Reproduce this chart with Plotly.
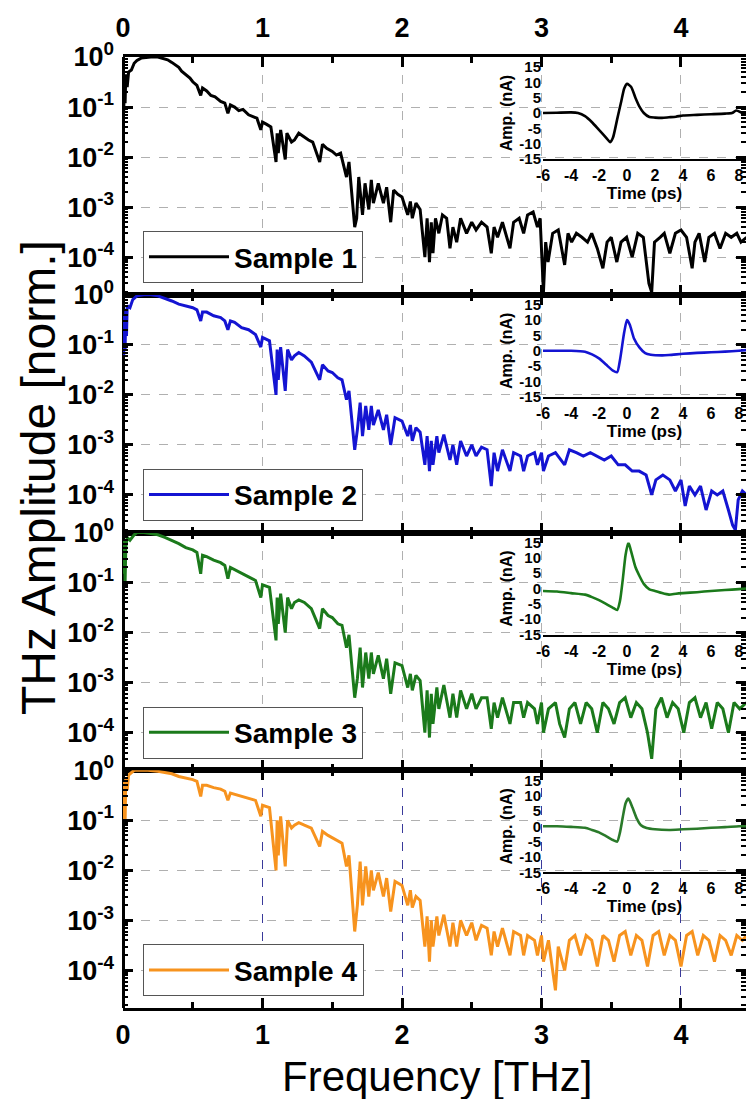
import plotly.graph_objects as go

# ---------------- data ----------------
freq_s1 = [0.000, 0.005, 0.010, 0.015, 0.020, 0.030, 0.040, 0.060, 0.080, 0.100, 0.130, 0.160, 0.200, 0.250, 0.280,
           0.320, 0.350, 0.380, 0.400, 0.420, 0.450, 0.480, 0.500, 0.530, 0.557, 0.570, 0.600, 0.630, 0.660, 0.700,
           0.730, 0.752, 0.770, 0.800, 0.830, 0.860, 0.900, 0.930, 0.960, 0.988, 1.000, 1.030, 1.060, 1.097, 1.105,
           1.113, 1.130, 1.163, 1.175, 1.208, 1.229, 1.260, 1.300, 1.330, 1.360, 1.410, 1.430, 1.460, 1.500, 1.530,
           1.560, 1.602, 1.620, 1.661, 1.675, 1.690, 1.717, 1.735, 1.762, 1.780, 1.795, 1.830, 1.867, 1.890, 1.919,
           1.940, 1.970, 2.000, 2.041, 2.060, 2.074, 2.100, 2.130, 2.164, 2.180, 2.197, 2.210, 2.222, 2.240, 2.264,
           2.290, 2.320, 2.344, 2.365, 2.392, 2.420, 2.463, 2.500, 2.531, 2.570, 2.610, 2.640, 2.660, 2.685, 2.720,
           2.774, 2.800, 2.840, 2.872, 2.900, 2.940, 2.971, 2.990, 3.014, 3.030, 3.047, 3.080, 3.120, 3.166, 3.190,
           3.216, 3.250, 3.290, 3.330, 3.360, 3.400, 3.440, 3.470, 3.500, 3.540, 3.570, 3.610, 3.650, 3.690, 3.730,
           3.770, 3.790, 3.810, 3.850, 3.880, 3.920, 3.960, 4.000, 4.040, 4.080, 4.100, 4.130, 4.170, 4.200, 4.240,
           4.280, 4.320, 4.360, 4.400, 4.430, 4.470]
amp_s1 = [0.25, 0.08, 0.35, 0.12, 0.45, 0.25, 0.5, 0.55, 0.75, 0.85, 0.95, 0.98, 1.0, 1.0, 0.95,
          0.88, 0.78, 0.68, 0.62, 0.52, 0.45, 0.38, 0.32, 0.27, 0.17, 0.24, 0.21, 0.17, 0.16, 0.13,
          0.12, 0.075, 0.11, 0.10, 0.085, 0.09, 0.07, 0.065, 0.06, 0.035, 0.05, 0.045, 0.04, 0.008, 0.03,
          0.012, 0.035, 0.009, 0.03, 0.02, 0.022, 0.03, 0.025, 0.022, 0.02, 0.008, 0.018, 0.015, 0.013, 0.011,
          0.012, 0.004, 0.008, 0.0004, 0.0006, 0.004, 0.0007, 0.003, 0.0009, 0.0035, 0.0012, 0.003, 0.0012, 0.0025, 0.0005,
          0.0022, 0.0018, 0.0016, 0.0007, 0.0013, 0.0006, 0.0012, 0.0009, 0.0001, 0.0006, 0.00008, 0.0005, 0.00012, 0.0006, 0.0003,
          0.0007, 0.0006, 0.00015, 0.0004, 0.0002, 0.0006, 0.0003, 0.0005, 0.00035, 0.0005, 0.0004, 0.00012, 0.0004, 0.00025, 0.0005,
          0.00015, 0.0005, 0.0006, 0.0003, 0.0007, 0.0008, 0.0004, 0.0006, 0.00002, 0.0002, 0.00008, 0.0003, 0.00035, 0.00007, 0.0003,
          0.0002, 0.0003, 0.00025, 0.0002, 0.0003, 0.00015, 0.00006, 0.0002, 0.00025, 0.00008, 0.0002, 0.00025, 0.0001, 0.0003, 0.00025,
          0.00003, 0.00002, 0.0002, 0.00025, 0.0003, 0.00012, 0.0003, 0.00035, 0.00025, 0.00006, 0.0002, 0.0003, 0.00008, 0.00025, 0.0003,
          0.00015, 0.0003, 0.00025, 0.0003, 0.0002, 0.00025]

freq_s2 = [0.000, 0.005, 0.010, 0.015, 0.020, 0.025, 0.030, 0.050, 0.070, 0.100, 0.150, 0.200, 0.250, 0.300, 0.350,
           0.400, 0.450, 0.500, 0.530, 0.557, 0.570, 0.600, 0.650, 0.700, 0.730, 0.752, 0.770, 0.800, 0.850, 0.900,
           0.950, 0.988, 1.000, 1.050, 1.097, 1.105, 1.113, 1.130, 1.163, 1.180, 1.208, 1.229, 1.260, 1.300, 1.350,
           1.410, 1.430, 1.470, 1.500, 1.540, 1.570, 1.602, 1.620, 1.661, 1.680, 1.700, 1.717, 1.740, 1.762, 1.780,
           1.795, 1.830, 1.867, 1.890, 1.919, 1.950, 2.000, 2.041, 2.060, 2.074, 2.100, 2.130, 2.164, 2.180, 2.197,
           2.210, 2.222, 2.250, 2.264, 2.300, 2.344, 2.365, 2.392, 2.420, 2.463, 2.500, 2.531, 2.570, 2.610, 2.640,
           2.660, 2.685, 2.720, 2.774, 2.800, 2.850, 2.872, 2.900, 2.950, 2.971, 3.000, 3.014, 3.050, 3.100, 3.166,
           3.200, 3.250, 3.300, 3.350, 3.400, 3.450, 3.500, 3.550, 3.600, 3.650, 3.700, 3.750, 3.790, 3.820, 3.870,
           3.920, 3.960, 4.000, 4.030, 4.060, 4.100, 4.140, 4.180, 4.220, 4.260, 4.300, 4.340, 4.370, 4.390, 4.410,
           4.440, 4.470]
amp_s2 = [0.3, 0.06, 0.4, 0.08, 0.5, 0.15, 0.6, 0.55, 0.8, 0.95, 1.0, 1.0, 0.95, 0.85, 0.75,
          0.65, 0.6, 0.55, 0.5, 0.3, 0.45, 0.45, 0.38, 0.35, 0.3, 0.2, 0.3, 0.28, 0.22, 0.2,
          0.16, 0.09, 0.14, 0.12, 0.01, 0.08, 0.02, 0.09, 0.012, 0.08, 0.05, 0.06, 0.07, 0.06, 0.045,
          0.02, 0.04, 0.03, 0.028, 0.022, 0.02, 0.008, 0.012, 0.0008, 0.002, 0.007, 0.0015, 0.006, 0.002, 0.006,
          0.0025, 0.005, 0.002, 0.004, 0.001, 0.0035, 0.003, 0.0015, 0.0025, 0.0012, 0.0022, 0.0018, 0.0004, 0.0015, 0.0003,
          0.0012, 0.0004, 0.0015, 0.0007, 0.0016, 0.0005, 0.001, 0.0004, 0.0012, 0.0006, 0.001, 0.0006, 0.0009, 0.0008, 0.00015,
          0.0007, 0.0003, 0.0008, 0.0003, 0.0007, 0.0006, 0.0003, 0.0006, 0.0007, 0.0004, 0.0007, 0.0003, 0.0006, 0.0007, 0.0004,
          0.0008, 0.0007, 0.0006, 0.0007, 0.0006, 0.0005, 0.0006, 0.0004, 0.0004, 0.0003, 0.0003, 0.00025, 0.0001, 0.0002, 0.00025,
          0.0002, 0.00012, 0.0002, 0.00006, 0.00015, 0.0001, 0.00015, 0.00005, 0.00012, 0.0001, 0.00012, 0.00005, 0.000025, 0.00002, 0.00008,
          0.00012, 0.0001]

freq_s3 = [0.000, 0.005, 0.010, 0.015, 0.020, 0.030, 0.050, 0.080, 0.100, 0.150, 0.200, 0.250, 0.300, 0.350, 0.400,
           0.450, 0.500, 0.530, 0.557, 0.570, 0.600, 0.650, 0.700, 0.730, 0.752, 0.770, 0.800, 0.850, 0.900, 0.950,
           0.988, 1.000, 1.050, 1.097, 1.105, 1.113, 1.130, 1.163, 1.180, 1.208, 1.229, 1.260, 1.300, 1.350, 1.410,
           1.430, 1.470, 1.500, 1.540, 1.570, 1.602, 1.620, 1.661, 1.680, 1.700, 1.717, 1.740, 1.762, 1.780, 1.795,
           1.830, 1.867, 1.890, 1.919, 1.950, 2.000, 2.041, 2.060, 2.074, 2.100, 2.130, 2.164, 2.180, 2.197, 2.210,
           2.222, 2.250, 2.264, 2.300, 2.344, 2.365, 2.392, 2.420, 2.463, 2.500, 2.531, 2.570, 2.610, 2.640, 2.660,
           2.685, 2.720, 2.774, 2.800, 2.850, 2.872, 2.900, 2.950, 2.971, 3.000, 3.014, 3.050, 3.100, 3.130, 3.166,
           3.200, 3.240, 3.280, 3.320, 3.360, 3.400, 3.440, 3.480, 3.520, 3.560, 3.600, 3.640, 3.680, 3.720, 3.760,
           3.790, 3.820, 3.860, 3.900, 3.940, 3.980, 4.020, 4.060, 4.100, 4.140, 4.180, 4.220, 4.260, 4.300, 4.340,
           4.380, 4.420, 4.470]
amp_s3 = [0.6, 0.15, 0.7, 0.1, 0.5, 0.8, 0.7, 0.9, 1.0, 1.0, 0.95, 0.9, 0.8, 0.7, 0.6,
          0.5, 0.45, 0.4, 0.15, 0.35, 0.33, 0.28, 0.25, 0.22, 0.12, 0.2, 0.18, 0.15, 0.13, 0.11,
          0.05, 0.09, 0.08, 0.007, 0.05, 0.015, 0.06, 0.01, 0.05, 0.03, 0.04, 0.045, 0.04, 0.03, 0.012,
          0.03, 0.022, 0.02, 0.015, 0.014, 0.005, 0.009, 0.0005, 0.0012, 0.005, 0.0008, 0.004, 0.0012, 0.004, 0.0015,
          0.0035, 0.0012, 0.003, 0.0006, 0.0025, 0.0022, 0.0008, 0.0015, 0.0007, 0.0014, 0.0011, 0.0001, 0.0007, 0.00008, 0.0006,
          0.00015, 0.0008, 0.0003, 0.0009, 0.0002, 0.0006, 0.0002, 0.0007, 0.0003, 0.0006, 0.0003, 0.0005, 0.0005, 0.00012, 0.0004,
          0.0002, 0.0005, 0.00015, 0.0004, 0.0004, 0.0002, 0.0004, 0.0003, 0.00015, 0.0004, 0.0001, 0.0003, 0.0004, 0.00015, 0.00008,
          0.0003, 0.0004, 0.00015, 0.0004, 0.0003, 0.0001, 0.0004, 0.0003, 0.00015, 0.0004, 0.0005, 0.0002, 0.0004, 0.0003, 0.0001,
          0.00003, 0.0003, 0.0005, 0.0002, 0.0004, 0.0003, 0.0001, 0.0004, 0.0005, 0.0002, 0.0004, 0.00012, 0.0004, 0.0003, 0.0001,
          0.0004, 0.0003, 0.0004]

freq_s4 = [0.000, 0.005, 0.010, 0.015, 0.020, 0.030, 0.040, 0.060, 0.080, 0.120, 0.180, 0.250, 0.300, 0.350, 0.400,
           0.450, 0.500, 0.530, 0.557, 0.570, 0.600, 0.650, 0.700, 0.730, 0.752, 0.770, 0.800, 0.850, 0.900, 0.950,
           0.988, 1.000, 1.050, 1.097, 1.105, 1.113, 1.130, 1.163, 1.180, 1.208, 1.229, 1.260, 1.300, 1.350, 1.410,
           1.430, 1.470, 1.500, 1.540, 1.570, 1.602, 1.620, 1.661, 1.680, 1.700, 1.717, 1.740, 1.762, 1.780, 1.795,
           1.830, 1.867, 1.890, 1.919, 1.950, 2.000, 2.041, 2.060, 2.074, 2.100, 2.130, 2.164, 2.180, 2.197, 2.210,
           2.222, 2.250, 2.264, 2.300, 2.344, 2.365, 2.392, 2.420, 2.463, 2.500, 2.531, 2.570, 2.610, 2.640, 2.660,
           2.685, 2.720, 2.774, 2.800, 2.850, 2.872, 2.900, 2.950, 2.971, 3.000, 3.014, 3.050, 3.080, 3.100, 3.120,
           3.166, 3.200, 3.240, 3.280, 3.320, 3.360, 3.400, 3.440, 3.480, 3.520, 3.560, 3.600, 3.640, 3.680, 3.720,
           3.760, 3.800, 3.840, 3.880, 3.920, 3.960, 4.000, 4.040, 4.080, 4.120, 4.160, 4.200, 4.240, 4.280, 4.320,
           4.360, 4.400, 4.440, 4.470]
amp_s4 = [0.5, 0.1, 0.6, 0.09, 0.7, 0.4, 0.8, 0.9, 1.0, 1.0, 1.0, 0.95, 0.9, 0.85, 0.75,
          0.7, 0.65, 0.6, 0.3, 0.5, 0.5, 0.45, 0.42, 0.38, 0.25, 0.35, 0.33, 0.3, 0.27, 0.25,
          0.12, 0.2, 0.18, 0.01, 0.1, 0.02, 0.12, 0.012, 0.1, 0.07, 0.08, 0.09, 0.08, 0.07, 0.03,
          0.06, 0.05, 0.045, 0.04, 0.035, 0.012, 0.02, 0.0006, 0.002, 0.015, 0.002, 0.012, 0.003, 0.01, 0.004,
          0.009, 0.003, 0.007, 0.0015, 0.006, 0.005, 0.002, 0.004, 0.0018, 0.003, 0.0025, 0.0003, 0.0012, 0.00015, 0.001,
          0.0003, 0.0012, 0.0005, 0.0013, 0.0003, 0.0009, 0.0003, 0.001, 0.0005, 0.0009, 0.0004, 0.0008, 0.0007, 0.0002, 0.0006,
          0.0003, 0.0007, 0.0002, 0.0006, 0.0005, 0.0002, 0.0005, 0.0004, 0.0002, 0.0005, 0.00015, 0.0004, 0.0001, 0.00004, 0.0003,
          0.0001, 0.0004, 0.0005, 0.0002, 0.0005, 0.0004, 0.00012, 0.0005, 0.0004, 0.00015, 0.0005, 0.0006, 0.0002, 0.0005, 0.0004,
          0.00012, 0.0005, 0.0006, 0.0002, 0.0005, 0.0004, 0.00012, 0.0005, 0.0006, 0.0002, 0.0005, 0.0004, 0.00015, 0.0005, 0.0004,
          0.0002, 0.0005, 0.0004, 0.0005]

# inset time-domain pulses (ps, nA)
time_s1 = [-6, -5, -4, -3.5, -3, -2.5, -2, -1.5, -1.2, -1.0, -0.7, -0.4, -0.2, 0, 0.3, 0.6, 0.9, 1.2, 1.6, 2, 2.5,
           3, 3.5, 4, 5, 6, 7, 7.5, 7.8, 8.1, 8.3, 8.5]
cur_s1 = [0, 0.1, 0.2, 0, -1, -3, -5.5, -8, -9.5, -8, -2, 4, 8, 9.5, 8.5, 5, 2, 0, -1.3, -1.5, -1.6,
          -1.4, -1.2, -0.8, -0.6, -0.4, -0.2, 0, 0.8, 0.3, -0.2, 0]
time_s2 = [-6, -5, -4, -3, -2.5, -2, -1.5, -1.0, -0.7, -0.5, -0.2, 0, 0.2, 0.5, 0.9, 1.3, 1.7, 2.5, 3, 4, 5, 6, 7, 8, 8.5]
cur_s2 = [0, 0, 0, -0.3, -1.2, -2.5, -4.5, -6.5, -7, -3, 6, 10, 8.5, 4, 1, -0.8, -1.3, -1.5, -1.4, -1, -0.7, -0.5, -0.3, 0, 0.2]
time_s3 = [-6, -5, -4, -3, -2.5, -2, -1.5, -1.0, -0.7, -0.5, -0.3, -0.1, 0.1, 0.3, 0.6, 0.9, 1.2, 1.6, 2, 2.5, 3, 3.5, 4,
           5, 6, 7, 8, 8.5]
cur_s3 = [-0.8, -1, -1.5, -2, -2.8, -3.8, -5, -6.3, -7, -4, 3, 11, 15, 12, 7, 4, 1.5, -0.3, -0.8, -1.5, -2, -1.7, -1.5,
          -1.2, -0.8, -0.5, -0.2, 0]
time_s4 = [-6, -5, -4, -3, -2.5, -2, -1.5, -1.0, -0.7, -0.5, -0.3, -0.1, 0.1, 0.4, 0.7, 1.0, 1.4, 2, 3, 4, 5, 6, 7, 8, 8.5]
cur_s4 = [0, 0, -0.2, -0.5, -1.2, -2, -3.2, -4.5, -5, -2, 3, 7.5, 9, 6, 2.5, 0.3, -0.6, -1, -1.2, -1, -0.8, -0.5, -0.3, 0, 0]

sample_names = ["Sample 1", "Sample 2", "Sample 3", "Sample 4"]
line_colors = ["#000000", "#1414d2", "#1b7a1b", "#f7931e"]
inset_colors = ["#000000", "#1414d2", "#1b7a1b", "#2a7a2a"]

freq_ticks = [0, 1, 2, 3, 4]
freq_minor = [0.5, 1.5, 2.5, 3.5]
amp_ticks = [1, 0.1, 0.01, 0.001, 0.0001]
amp_ticktext = ["10<sup>0</sup>", "10<sup>-1</sup>", "10<sup>-2</sup>", "10<sup>-3</sup>", "10<sup>-4</sup>"]
time_ticks = [-6, -4, -2, 0, 2, 4, 6, 8]
time_ticktext = ["-6", "-4", "-2", "0", "2", "4", "6", "8"]
cur_ticks = [-15, -10, -5, 0, 5, 10, 15]
cur_ticktext = ["-15", "-10", "-5", "0", "5", "10", "15"]

spectra = [(freq_s1, amp_s1), (freq_s2, amp_s2), (freq_s3, amp_s3), (freq_s4, amp_s4)]
pulses = [(time_s1, cur_s1), (time_s2, cur_s2), (time_s3, cur_s3), (time_s4, cur_s4)]

# ---------------- layout geometry ----------------
W, H = 746, 1099
ML, MR, MT, MB = 123, 0, 57, 91
PW, PH = W - ML - MR, H - MT - MB
PANEL_H = PH / 4.0


def py2paper(py):
    return (H - MB - py) / PH


def px2paper(px):
    return (px - ML) / PW


FONT = "Liberation Sans, Arial, sans-serif"
minor_amp = [m * 10.0 ** e for e in range(-5, 0) for m in range(2, 10)]

fig = go.Figure()
layout = dict(
    width=W, height=H,
    margin=dict(l=ML, r=MR, t=MT, b=MB, pad=0),
    paper_bgcolor="white", plot_bgcolor="rgba(0,0,0,0)",
    font=dict(family=FONT, color="black"),
    showlegend=True,
)

for k in range(4):
    n = k + 1
    sx = "" if n == 1 else str(n)
    f, a = spectra[k]
    legend_name = "legend" if n == 1 else "legend%d" % n
    fig.add_trace(go.Scatter(x=f, y=a, mode="lines", name=sample_names[k],
                             line=dict(color=line_colors[k], width=3),
                             xaxis="x" + sx, yaxis="y" + sx, legend=legend_name))
    top_px = MT + k * PANEL_H
    grid_col = "#3a3a9a" if n == 4 else "#b0b0b0"
    layout["xaxis" + sx] = dict(
        domain=[0, 1], anchor="y" + sx, range=[0, 4.466],
        tickvals=freq_ticks, ticktext=[str(v) for v in freq_ticks],
        ticks="inside", ticklen=10, tickwidth=3, tickcolor="black",
        showline=True, linewidth=3, linecolor="black", mirror="ticks",
        showgrid=True, gridcolor=grid_col, griddash="dash", gridwidth=1,
        zeroline=True, zerolinecolor="black", zerolinewidth=3,
        minor=dict(tickvals=freq_minor, ticks="inside", ticklen=6, tickwidth=3,
                   tickcolor="black", showgrid=False),
        showticklabels=(n in (1, 4)), side="top" if n == 1 else "bottom",
        tickfont=dict(family=FONT, size=27, weight="bold"),
        ticklabelstandoff=6 if n == 1 else 1,
    )
    layout["yaxis" + sx] = dict(
        domain=[1 - n / 4.0, 1 - k / 4.0], anchor="x" + sx, type="log", range=[-4.75, 0],
        tickvals=amp_ticks, ticktext=amp_ticktext,
        ticks="inside", ticklen=10, tickwidth=3, tickcolor="black",
        showline=False, mirror="ticks",
        showgrid=True, gridcolor="#b0b0b0", griddash="dash", gridwidth=1,
        zeroline=False,
        minor=dict(tickvals=minor_amp, ticks="inside", ticklen=5, tickwidth=2,
                   tickcolor="black", showgrid=False),
        tickfont=dict(family=FONT, size=27, weight="bold"),
        ticklabelstandoff=8,
    )
    layout[legend_name] = dict(
        x=px2paper(143), y=py2paper(top_px + 174), xref="paper", yref="paper",
        xanchor="left", yanchor="top",
        bgcolor="white", bordercolor="#555555", borderwidth=1,
        font=dict(family=FONT, size=28, weight="bold", color="black"),
        itemwidth=80,
    )

    # inset
    m = n + 4
    t, c = pulses[k]
    fig.add_trace(go.Scatter(x=t, y=c, mode="lines", showlegend=False,
                             line=dict(color=inset_colors[k], width=2.6, shape="spline", smoothing=0.6),
                             xaxis="x%d" % m, yaxis="y%d" % m))
    layout["xaxis%d" % m] = dict(
        domain=[px2paper(543), 1], anchor="y%d" % m, range=[-6, 8.5],
        tickvals=time_ticks, ticktext=time_ticktext, ticks="",
        showline=True, linewidth=2, linecolor="black",
        showgrid=False, zeroline=False,
        tickfont=dict(family=FONT, size=16, weight="bold"), ticklabelstandoff=1,
        title=dict(text="Time (ps)", font=dict(family=FONT, size=17, weight="bold"), standoff=1),
    )
    layout["yaxis%d" % m] = dict(
        domain=[py2paper(top_px + 102), py2paper(top_px + 10)], anchor="x%d" % m, range=[-15, 15],
        tickvals=cur_ticks, ticktext=cur_ticktext, ticks="", showline=False, showgrid=False, zeroline=False,
        tickfont=dict(family=FONT, size=15, weight="bold"), ticklabelstandoff=1,
        title=dict(text="Amp. (nA)", font=dict(family=FONT, size=16, weight="bold"), standoff=2),
    )

layout["annotations"] = [
    dict(text="THz Amplitude [norm.]", xref="paper", yref="paper",
         x=px2paper(38), y=py2paper(478), textangle=-90, showarrow=False,
         xanchor="center", yanchor="middle", font=dict(family=FONT, size=48, color="black")),
    dict(text="Frequency [THz]", xref="paper", yref="paper",
         x=px2paper(437), y=py2paper(1076), showarrow=False,
         xanchor="center", yanchor="middle", font=dict(family=FONT, size=42, color="black")),
]

fig.update_layout(**layout)
fig.write_html("out.html")
